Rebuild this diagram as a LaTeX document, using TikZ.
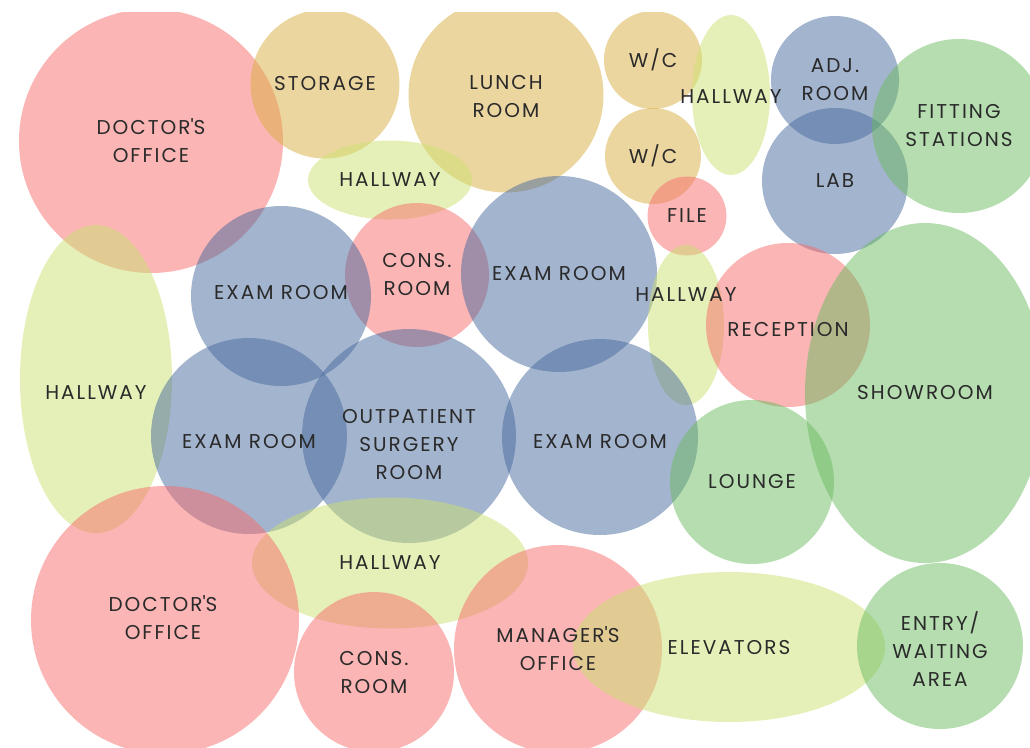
\documentclass[tikz,border=0pt]{standalone}
\usepackage{fontspec}
\setmainfont{Poppins}[LetterSpace=10]
\usetikzlibrary{shapes.geometric}

\definecolor{pinkroom}{RGB}{247,107,107}
\definecolor{tanroom}{RGB}{217,173,65}
\definecolor{hallroom}{RGB}{203,225,113}
\definecolor{blueroom}{RGB}{71,105,157}
\definecolor{greenroom}{RGB}{107,187,97}
\definecolor{labeltext}{RGB}{42,42,42}

\tikzset{
	bubble/.style={circle, inner sep=0pt, fill opacity=0.5, minimum size=#1},
	oval/.style 2 args={ellipse, inner sep=0pt, fill opacity=0.5, minimum width=#1, minimum height=#2},
	room/.style={text=labeltext, align=center, font=\fontsize{20}{28}\selectfont}
}

\begin{document}
\begin{tikzpicture}[x=1pt,y=-1pt]
	\useasboundingbox (0,0) rectangle (1030,747);
	\begin{scope}
		\clip (0,12) rectangle (1030,747);
		% top row
		\node[bubble=264pt, fill=pinkroom] (docA) at (151,141) {};
		\node[bubble=149pt, fill=tanroom] (storage) at (325,84) {};
		\node[bubble=195pt, fill=tanroom] (lunch) at (506,95) {};
		\node[bubble=98pt, fill=tanroom] (wcA) at (653,60) {};
		\node[bubble=96pt, fill=tanroom] (wcB) at (653,156) {};
		\node[oval={78pt}{160pt}, fill=hallroom] (hallA) at (731,95) {};
		\node[bubble=128pt, fill=blueroom] (adj) at (835,80) {};
		\node[bubble=146pt, fill=blueroom] (lab) at (835,181) {};
		\node[bubble=174pt, fill=greenroom] (fitting) at (959,126) {};
		\node[bubble=79pt, fill=pinkroom] (file) at (687,216) {};
		\node[oval={164pt}{79pt}, fill=hallroom] (hallB) at (390,180) {};
		% middle
		\node[bubble=144pt, fill=pinkroom] (consA) at (417,275) {};
		\node[bubble=180pt, fill=blueroom] (examA) at (281,296) {};
		\node[bubble=196pt, fill=blueroom] (examB) at (559,274) {};
		\node[oval={76pt}{160pt}, fill=hallroom] (hallC) at (686,325) {};
		\node[bubble=164pt, fill=pinkroom] (reception) at (788,325) {};
		\node[oval={240pt}{340pt}, fill=greenroom] (showroom) at (925,393) {};
		\node[oval={152pt}{308pt}, fill=hallroom] (hallD) at (96,379) {};
		\node[bubble=196pt, fill=blueroom] (examC) at (249,436) {};
		\node[bubble=214pt, fill=blueroom] (surgery) at (409,436) {};
		\node[bubble=196pt, fill=blueroom] (examD) at (600,437) {};
		\node[bubble=164pt, fill=greenroom] (lounge) at (752,482) {};
		% bottom row
		\node[oval={276pt}{131pt}, fill=hallroom] (hallE) at (390,563) {};
		\node[bubble=268pt, fill=pinkroom] (docB) at (165,620) {};
		\node[bubble=160pt, fill=pinkroom] (consB) at (374,672) {};
		\node[bubble=208pt, fill=pinkroom] (manager) at (558,649) {};
		\node[oval={312pt}{150pt}, fill=hallroom] (elevators) at (729,647) {};
		\node[bubble=166pt, fill=greenroom] (entry) at (940,646) {};
	\end{scope}

	\begin{scope}[every node/.style=room]
		\node (docAtxt) at (docA) {DOCTOR\textquotesingle S\\OFFICE};
		\node (storagetxt) at (storage) {STORAGE};
		\node[yshift=-2pt] (lunchtxt) at (lunch) {LUNCH\\ROOM};
		\node (wcAtxt) at (wcA) {W/C};
		\node (wcBtxt) at (wcB) {W/C};
		\node[yshift=-2pt] (hallAtxt) at (hallA) {HALLWAY};
		\node (adjtxt) at (adj) {ADJ.\\ROOM};
		\node (labtxt) at (lab) {LAB};
		\node (fittingtxt) at (fitting) {FITTING\\STATIONS};
		\node (filetxt) at (file) {FILE};
		\node (hallBtxt) at (hallB) {HALLWAY};
		\node (consAtxt) at (consA) {CONS.\\ROOM};
		\node[yshift=3pt] (examAtxt) at (examA) {EXAM ROOM};
		\node (examBtxt) at (examB) {EXAM ROOM};
		\node[yshift=30pt] (hallCtxt) at (hallC) {HALLWAY};
		\node[yshift=-5pt] (receptiontxt) at (reception) {RECEPTION};
		\node (showroomtxt) at (showroom) {SHOWROOM};
		\node[yshift=-14pt] (hallDtxt) at (hallD) {HALLWAY};
		\node[yshift=-6pt] (examCtxt) at (examC) {EXAM ROOM};
		\node[yshift=-9pt] (surgerytxt) at (surgery) {OUTPATIENT\\SURGERY\\ROOM};
		\node[yshift=-5pt] (examDtxt) at (examD) {EXAM ROOM};
		\node (loungetxt) at (lounge) {LOUNGE};
		\node (hallEtxt) at (hallE) {HALLWAY};
		\node[xshift=-2pt,yshift=2pt] (docBtxt) at (docB) {DOCTOR\textquotesingle S\\OFFICE};
		\node (consBtxt) at (consB) {CONS.\\ROOM};
		\node (managertxt) at (manager) {MANAGER\textquotesingle S\\OFFICE};
		\node (elevatorstxt) at (elevators) {ELEVATORS};
		\node[yshift=-3pt] (entrytxt) at (entry) {ENTRY/\\WAITING\\AREA};
	\end{scope}
\end{tikzpicture}
\end{document}
